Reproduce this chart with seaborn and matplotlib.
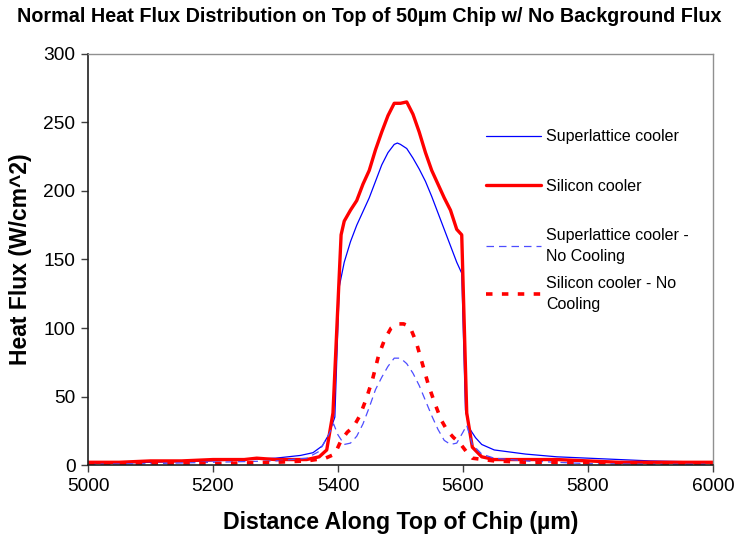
import numpy as np
import pandas as pd
import seaborn as sns
import matplotlib.pyplot as plt

# superlattice cooler (thin blue)
sl_x = [5000, 5100, 5200, 5300, 5340, 5360, 5375, 5385, 5395, 5402, 5410, 5420, 5430,
        5440, 5450, 5460, 5470, 5480, 5490, 5495, 5500, 5510, 5520, 5530, 5540, 5550,
        5560, 5570, 5580, 5590, 5598, 5604, 5610, 5620, 5630, 5650, 5700, 5750, 5800,
        5900, 6000]
sl_y = [1, 2, 3, 5, 7, 9, 14, 22, 35, 130, 148, 163, 175,
        185, 195, 207, 219, 228, 234, 235, 234, 231, 224, 216, 207, 196,
        184, 172, 160, 148, 140, 40, 27, 20, 15, 11, 8, 6, 5,
        3, 2]

# silicon cooler (thick red)
si_x = [5000, 5050, 5100, 5150, 5200, 5250, 5270, 5300, 5350, 5370, 5382, 5392, 5405,
        5410, 5420, 5430, 5440, 5450, 5460, 5470, 5480, 5490, 5500, 5510, 5520, 5530,
        5540, 5550, 5560, 5570, 5580, 5590, 5598, 5606, 5615, 5630, 5650, 5700, 5750,
        5800, 5850, 5900, 5950, 6000]
si_y = [2, 2, 3, 3, 4, 4, 5, 4, 4, 6, 11, 38, 168,
        178, 186, 193, 205, 215, 230, 243, 255, 264, 264, 265, 256, 243,
        228, 215, 205, 195, 186, 172, 168, 38, 13, 6, 4, 4, 4,
        3, 2, 2, 2, 2]

# superlattice cooler, no cooling (thin blue dashed)
sl_nc_x = [5000, 5100, 5200, 5300, 5350, 5370, 5385, 5393, 5400, 5410, 5420, 5430, 5440,
           5450, 5460, 5470, 5480, 5490, 5500, 5510, 5520, 5530, 5540, 5550, 5560, 5570,
           5580, 5590, 5600, 5606, 5615, 5630, 5650, 5700, 5800, 5900, 6000]
sl_nc_y = [0.5, 1, 2, 3, 5, 10, 22, 30, 22, 15, 16, 21, 30,
           42, 55, 64, 72, 78, 78, 74, 67, 58, 47, 36, 26, 18,
           15, 16, 24, 29, 15, 8, 5, 3, 1, 0.5, 0.5]

# silicon cooler, no cooling (thick red dashed)
si_nc_x = [5000, 5100, 5200, 5300, 5350, 5380, 5395, 5405, 5415, 5425, 5435, 5445, 5455,
           5465, 5475, 5485, 5495, 5505, 5515, 5525, 5535, 5545, 5555, 5565, 5575, 5585,
           5595, 5605, 5615, 5650, 5700, 6000]
si_nc_y = [1, 1, 1, 2, 3, 5, 8, 18, 24, 28, 36, 48, 62,
           80, 92, 100, 103, 103, 101, 90, 74, 58, 45, 33, 25, 20,
           16, 10, 5, 3, 2, 1]

labels = ["Superlattice cooler", "Silicon cooler",
          "Superlattice cooler -\nNo Cooling", "Silicon cooler - No\nCooling"]

sns.set_style("ticks")
plt.rcParams['font.family'] = ['Liberation Sans', 'DejaVu Sans']
plt.rcParams['text.color'] = 'black'
plt.rcParams['axes.labelcolor'] = 'black'
plt.rcParams['xtick.color'] = 'black'
plt.rcParams['ytick.color'] = 'black'

fig = plt.figure(figsize=(7.38, 5.43), dpi=100)
ax = fig.add_axes([0.1192, 0.1436, 0.8469, 0.757])

sns.lineplot(x=sl_x, y=sl_y, ax=ax, color='#0000ff', lw=0.9, label=labels[0])
sns.lineplot(x=si_x, y=si_y, ax=ax, color='#ff0000', lw=2.4, label=labels[1])
sns.lineplot(x=sl_nc_x, y=sl_nc_y, ax=ax, color='#4d4dff', lw=0.9, label=labels[2])
sns.lineplot(x=si_nc_x, y=si_nc_y, ax=ax, color='#ff0000', lw=2.6, label=labels[3])
# seaborn ignores dashes kwarg for a single line, so set them directly
ax.lines[2].set_dashes((6, 4))
ax.lines[3].set_dashes((1.8, 2.6))

ax.set_xlim(5000, 6000)
ax.set_ylim(0, 300)
ax.set_xticks(np.arange(5000, 6001, 200))
ax.set_yticks(np.arange(0, 301, 50))
ax.tick_params(axis='both', labelsize=13.8, length=5, width=1, color='#404040',
               direction='out', pad=4)

for s in ['left', 'bottom']:
    ax.spines[s].set_color('#202020')
    ax.spines[s].set_linewidth(1.2)
for s in ['top', 'right']:
    ax.spines[s].set_color('#909090')
    ax.spines[s].set_linewidth(1.0)

ax.set_xlabel("Distance Along Top of Chip (µm)", fontsize=16.7, fontweight='bold', labelpad=12)
ax.set_ylabel("Heat Flux (W/cm^2)", fontsize=16.5, fontweight='bold', labelpad=8)
fig.suptitle("Normal Heat Flux Distribution on Top of 50µm Chip w/ No Background Flux",
             fontsize=14.2, fontweight='bold', y=0.988)

handles, _ = ax.get_legend_handles_labels()
ax.get_legend().remove()
leg_kw = dict(loc='upper left', frameon=False, fontsize=11.5, handlelength=3.45,
              handletextpad=0.3, borderaxespad=0)
leg1 = ax.legend(handles[:2], labels[:2], bbox_to_anchor=(0.627, 0.832),
                 labelspacing=2.15, **leg_kw)
ax.add_artist(leg1)
leg2 = ax.legend(handles[2:], labels[2:], bbox_to_anchor=(0.627, 0.592),
                 labelspacing=0.75, **leg_kw)
for t in leg2.get_texts():
    t.set_linespacing(1.5)

fig.savefig("out.png", dpi=100)
